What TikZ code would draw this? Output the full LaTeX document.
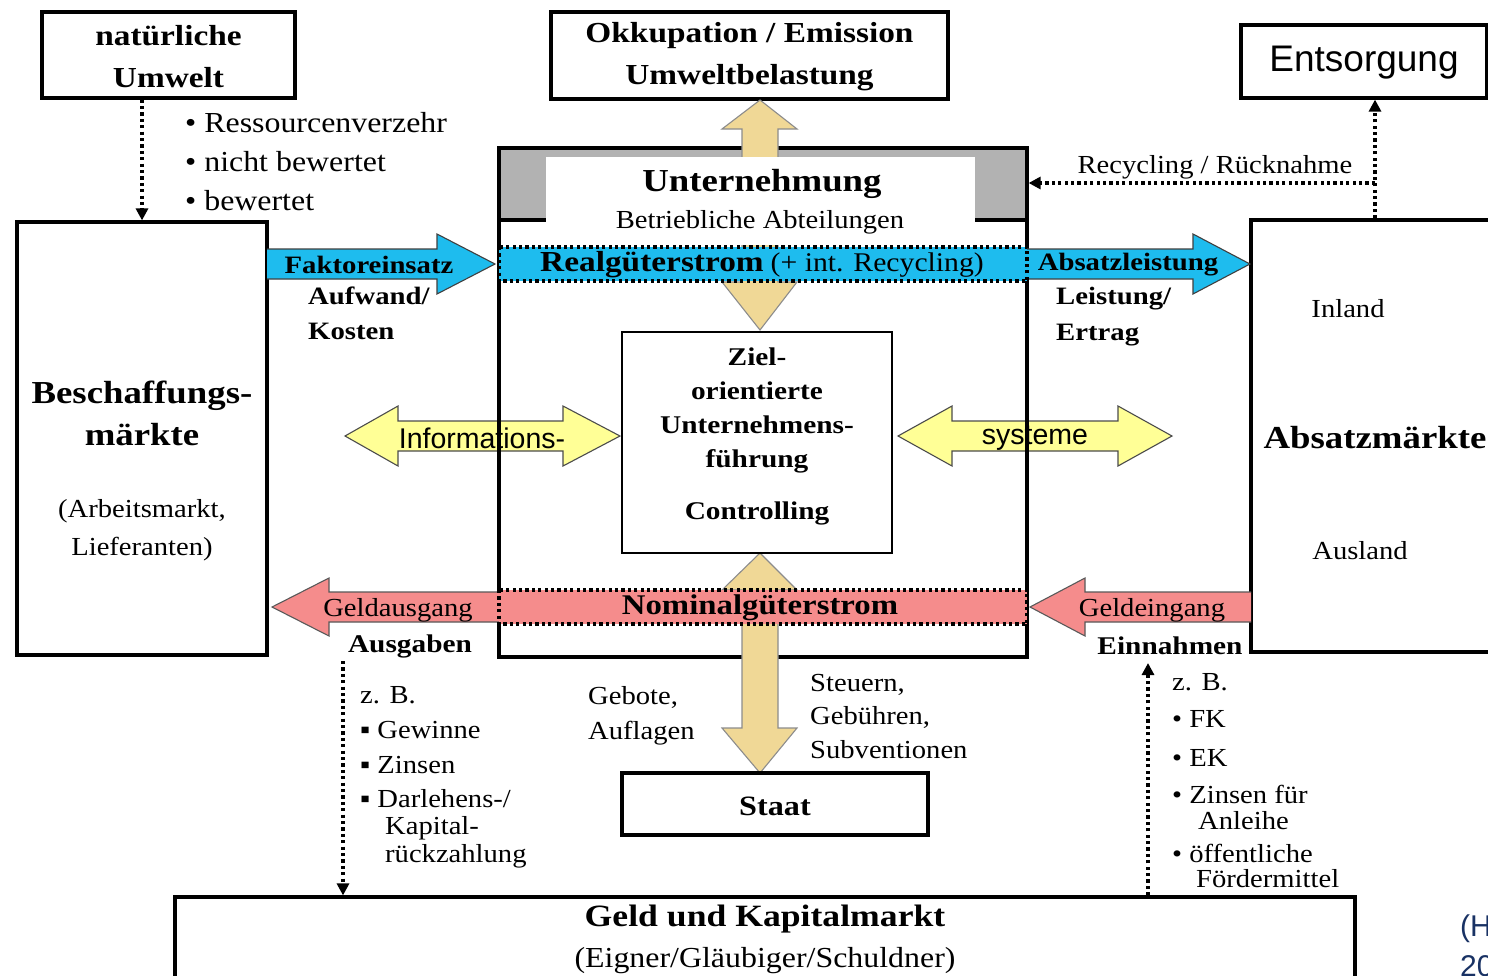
\documentclass[tikz,border=0pt]{standalone}
\usepackage{fontspec}
\setmainfont{Liberation Serif}[FakeStretch=1.1]
\setsansfont{Liberation Sans}
\newfontfamily\bfw{Liberation Serif}[FakeStretch=1.15]
\usetikzlibrary{arrows.meta,calc}
\definecolor{cyanA}{RGB}{30,188,238}
\definecolor{pinkA}{RGB}{245,140,140}
\definecolor{yelA}{RGB}{255,255,150}
\definecolor{tanA}{RGB}{240,216,150}
\definecolor{blueA}{RGB}{25,50,100}
\newcommand\Rg[2]{\fontsize{#1}{#2}\selectfont}
\newcommand\Bd[2]{\bfw\bfseries\fontsize{#1}{#2}\selectfont}
\tikzset{
  box/.style={draw, line width=3.2pt, inner sep=0pt, fill=white},
  txt/.style={inner sep=0pt, align=center, yshift=-2pt},
  ltxt/.style={inner sep=0pt, align=left, anchor=west, yshift=-1.5pt},
  dotarrow/.style={line width=3.4pt, dash pattern=on 3.2pt off 3.2pt, -{Triangle[length=12pt,width=12pt]}},
  cyanarrow/.style={fill=cyanA, draw=black!75, line width=1.1pt},
  pinkarrow/.style={fill=pinkA, draw=black!65, line width=1.1pt},
  yelarrow/.style={fill=yelA, draw=black!70, line width=1.1pt},
  tanarrow/.style={fill=tanA, draw=black!45, line width=1.1pt},
  band/.style={line width=3.4pt, dash pattern=on 3.2pt off 3.2pt},
}
\begin{document}
\begin{tikzpicture}[x=1pt,y=-1pt]
\useasboundingbox (0,0) rectangle (1488,975);
\clip (0,0) rectangle (1488,975);
\fill[white] (0,0) rectangle (1488,975);

% top boxes
\node[box, minimum width=253, minimum height=86] (nat) at (168.5,55) {};
\node[txt, font=\Bd{29}{42}] (natT) at (168.5,54.5) {natürliche\\Umwelt};
\node[box, minimum width=397, minimum height=87] (okk) at (749.5,55.5) {};
\node[txt, font=\Bd{29}{42}] (okkT) at (749.5,55) {Okkupation / Emission\\Umweltbelastung};
\node[box, minimum width=246, minimum height=73] (ents) at (1364,61.5) {};
\node[txt, font=\sffamily\Rg{37}{40}] (entsT) at (1364,61) {Entsorgung};

% side boxes
\node[box, minimum width=250, minimum height=433] (besch) at (142,438.5) {};
\node[txt, font=\Bd{32}{42}] (beschT) at (142,411) {Beschaffungs-\\märkte};
\node[txt, font=\Rg{26}{38}] (beschS) at (142,528) {(Arbeitsmarkt,\\Lieferanten)};

\node[box, minimum width=259, minimum height=432] (abs) at (1380.5,436) {};
\node[txt, font=\Rg{26}{30}] (inland) at (1348,307) {Inland};
\node[txt, font=\Bd{32}{36}] (absT) at (1375,436) {Absatzmärkte};
\node[txt, font=\Rg{26}{30}] (ausland) at (1360,549) {Ausland};

% Unternehmung
\fill[white] (499,148) rectangle (1027,657);
\fill[gray!60] (499,148) rectangle (1027,220);

% yellow information arrows
\filldraw[yelarrow] (345,436) -- (398,406) -- (398,421) -- (563,421) -- (563,406) -- (620,436) -- (563,466) -- (563,451) -- (398,451) -- (398,466) -- cycle;
\filldraw[yelarrow] (898,436) -- (952,406) -- (952,421) -- (1118,421) -- (1118,406) -- (1172,436) -- (1118,466) -- (1118,451) -- (952,451) -- (952,466) -- cycle;
\node[txt, font=\sffamily\Rg{28.5}{32}] (info) at (482,436) {Informations-};
\node[txt, font=\sffamily\Rg{28.5}{32}] (syst) at (1035,436) {systeme};

\node[draw, line width=3.2pt, inner sep=0pt, minimum width=528, minimum height=509] (unt) at (763,402.5) {};
\draw[line width=3.2pt] (unt.west |- 0,220) -- (546,220);
\draw[line width=3.2pt] (975,220) -- (unt.east |- 0,220);

% tan vertical arrows
\filldraw[tanarrow] (760,100) -- (797,129) -- (778,129) -- (778,282) -- (797,282) -- (760,330) -- (722,282) -- (742,282) -- (742,129) -- (722,129) -- cycle;
\filldraw[tanarrow] (760,553) -- (797,590) -- (778,590) -- (778,728) -- (797,728) -- (760,773) -- (722,728) -- (742,728) -- (742,590) -- (722,590) -- cycle;

% white header
\fill[white] (546,157) rectangle (975,245);
\node[txt, font=\Bd{32}{36}] (untT) at (762,182) {Unternehmung};
\node[txt, font=\Rg{26}{30}] (betr) at (760,220) {Betriebliche Abteilungen};

% cyan arrows
\filldraw[cyanarrow] (267,249) -- (437,249) -- (437,234) -- (495,264) -- (437,294) -- (437,279) -- (267,279);
\filldraw[cyanarrow] (1027,249) -- (1193,249) -- (1193,234) -- (1250,264) -- (1193,294) -- (1193,279) -- (1027,279);
\node[txt, font=\Bd{25}{30}] (fakt) at (369,263) {Faktoreinsatz};
\node[txt, font=\Bd{25}{30}] (absl) at (1128,263) {Absatzleistung};
\node[ltxt, font=\Bd{25}{35}] (aufw) at (308,312) {Aufwand/\\Kosten};
\node[ltxt, font=\Bd{25}{36}] (leist) at (1056,315) {Leistung/\\Ertrag};

% pink arrows
\filldraw[pinkarrow] (499,592) -- (329,592) -- (329,578) -- (272,607) -- (329,636) -- (329,622) -- (499,622);
\filldraw[pinkarrow] (1251,592) -- (1085,592) -- (1085,578) -- (1030,607) -- (1085,636) -- (1085,622) -- (1251,622);
\node[txt, font=\Rg{26}{30}] (gaus) at (398,608) {Geldausgang};
\node[txt, font=\Rg{26}{30}] (gein) at (1152,608) {Geldeingang};
\node[txt, font=\Bd{25.5}{30}] (ausg) at (410,644) {Ausgaben};
\node[txt, font=\Bd{25.5}{30}] (einn) at (1170,644) {Einnahmen};

% bands
\filldraw[band, fill=cyanA] (499,247) rectangle (1027,281);
\node[txt] (real) at (762,263) {{\Bd{29}{32}Realgüterstrom}\hspace{7pt}{\Rg{27}{32}(+ int. Recycling)}};
\filldraw[band, fill=pinkA] (499,590) rectangle (1027,624);
\node[txt, font=\Bd{28.5}{32}] (nom) at (760,606) {Nominalgüterstrom};

% Controlling
\node[draw, line width=2pt, fill=white, inner sep=0pt, minimum width=270, minimum height=221] (ctrl) at (757,442.5) {};
\node[txt, font=\Bd{25.5}{34}] (zielT) at (757,408) {Ziel-\\orientierte\\Unternehmens-\\führung};
\node[txt, font=\Bd{25.5}{30}] (contr) at (757,511) {Controlling};

% Staat
\node[box, minimum width=306, minimum height=62] (staat) at (775,804) {};
\node[txt, font=\Bd{28}{32}] (staatT) at (775,804) {Staat};
\node[ltxt, font=\Rg{26}{35}] (gebote) at (588,714) {Gebote,\\Auflagen};
\node[ltxt, font=\Rg{26}{33.5}] (steuern) at (810,715) {Steuern,\\Gebühren,\\Subventionen};

% Geld und Kapitalmarkt
\node[box, minimum width=1180, minimum height=103] (geld) at (765,948.5) {};
\node[txt, font=\Bd{31}{36}] (geldT) at (765,917) {Geld und Kapitalmarkt};
\node[txt, font=\Rg{29}{34}] (geldS) at (765,959) {(Eigner/Gläubiger/Schuldner)};

% top-left bullets
\node[ltxt, font=\Rg{29}{39}] (ress) at (185,160) {• Ressourcenverzehr\\• nicht bewertet\\• bewertet};

% Recycling
\coordinate (rc) at (1375,183);
\node[txt, font=\Rg{26}{30}] (recy) at (1215,165) {Recycling / Rücknahme};
\draw[dotarrow] (rc |- abs.north) -- (rc |- ents.south);
\draw[dotarrow] (rc) -- (rc -| unt.east);

% dotted arrows
\draw[dotarrow] (nat.south -| besch.north) -- (besch.north);
\coordinate (ls) at (343,661);
\draw[dotarrow] (ls) -- (ls |- geld.north);
\coordinate (re) at (1148,663);
\draw[dotarrow] (re |- geld.north) -- (re);

% lists
\node[ltxt, font=\Rg{26}{30}] (zb1) at (360,694) {z. B.};
\node[ltxt, font=\Rg{26}{30}] (gew) at (360,729) {▪ Gewinne};
\node[ltxt, font=\Rg{26}{30}] (zin) at (360,764) {▪ Zinsen};
\node[ltxt, font=\Rg{26}{30}] (darl) at (360,797) {▪ Darlehens-/};
\node[ltxt, font=\Rg{26}{28}] (kap) at (385,841) {Kapital-\\rückzahlung};

\node[ltxt, font=\Rg{26}{30}] (zb2) at (1172,681) {z. B.};
\node[ltxt, font=\Rg{26}{30}] (fk) at (1172,717) {• FK};
\node[ltxt, font=\Rg{26}{30}] (ek) at (1172,756) {• EK};
\node[ltxt, font=\Rg{26}{30}] (zf) at (1172,793) {• Zinsen für};
\node[ltxt, font=\Rg{26}{30}] (anl) at (1198,819) {Anleihe};
\node[ltxt, font=\Rg{26}{30}] (oef) at (1172,852) {• öffentliche};
\node[ltxt, font=\Rg{26}{30}] (foer) at (1196,877) {Fördermittel};

% source (cut off at the right edge, as in the reference)
\node[ltxt, font=\sffamily\Rg{30}{34}, text=blueA] (srcA) at (1460,927) {(H};
\node[ltxt, font=\sffamily\Rg{30}{34}, text=blueA] (srcB) at (1460,965) {20};
\end{tikzpicture}
\end{document}
